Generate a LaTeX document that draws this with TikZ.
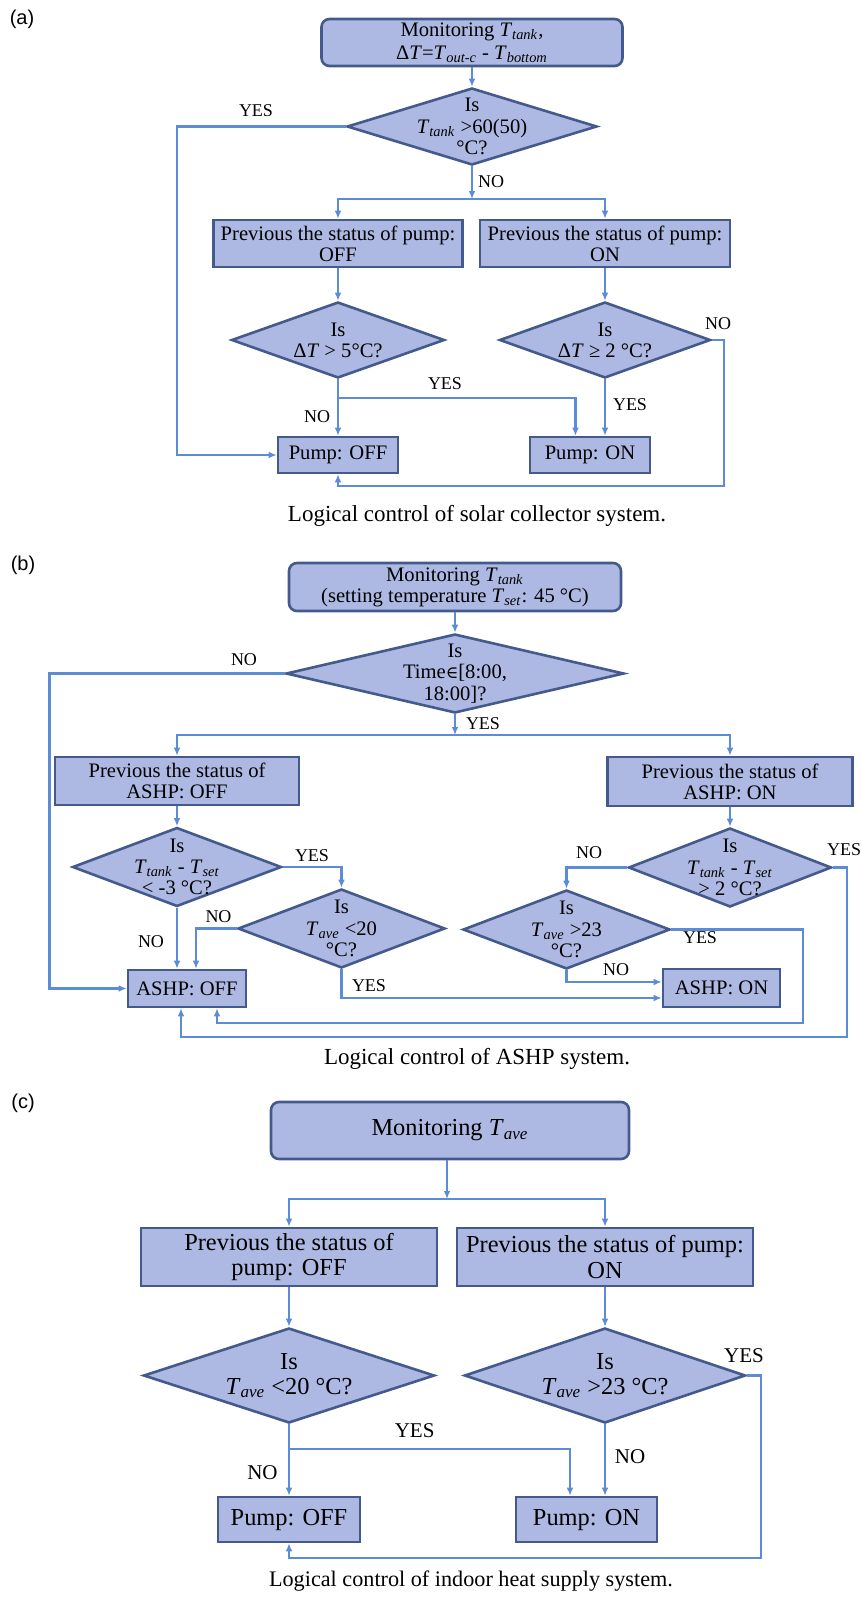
\documentclass[tikz,border=0pt]{standalone}
\usepackage{fontspec}
\setmainfont{Liberation Serif}
\newfontfamily\labfont{Liberation Sans}
\newfontfamily\symfont{DejaVu Serif}
\usetikzlibrary{shapes.geometric,arrows.meta}
\definecolor{boxfill}{RGB}{173,185,226}
\definecolor{boxline}{RGB}{68,90,140}
\definecolor{conn}{RGB}{92,140,214}
\newcommand{\Tsb}[1]{\textit{T}\textsubscript{\textit{#1}}}
\newcommand{\dgc}{°C}
\newcommand{\elem}{{\symfont\fontsize{8.5}{8.5}\selectfont ∈}}
\newcommand{\fA}{\fontsize{10.3}{10.6}\selectfont}
\newcommand{\fC}{\fontsize{12.2}{12.6}\selectfont}
\newcommand{\fYN}{\fontsize{9}{9}\selectfont}
\newcommand{\fYNc}{\fontsize{10.5}{10.5}\selectfont}
\newcommand{\fCap}{\fontsize{11.5}{11.5}\selectfont}
\newcommand{\fCapc}{\fontsize{11.1}{11.1}\selectfont}
\newcommand{\fPanel}{\fontsize{10}{10}\selectfont}
\tikzset{
  procbox/.style={draw=boxline, fill=boxfill, line width=1.3pt, inner sep=0pt, align=center},
  startbox/.style={procbox, rounded corners=4pt},
  decbox/.style={diamond, draw=boxline, fill=boxfill, line width=1.3pt, inner sep=0pt},
  dtext/.style={inner sep=0pt, align=center},
  conline/.style={draw=conn, line width=1.1pt},
  conarr/.style={conline, -{Latex[length=4pt,width=3.4pt]}},
  yn/.style={inner sep=0pt, font=\fYN},
  ync/.style={inner sep=0pt, font=\fYNc},
  captext/.style={inner sep=0pt},
  panel/.style={inner sep=0pt, font=\labfont\fPanel},
}
\begin{document}
\begin{tikzpicture}[x=0.5pt,y=-0.5pt]
\useasboundingbox (0,0) rectangle (861,1601);

% ---------------- Panel (a) ----------------
\node[panel] (la) at (22,19) {(a)};
\node[startbox, minimum width=150.5pt, minimum height=23.5pt, font=\fA] (topA) at (472,42.5)
  {Monitoring \Tsb{tank},\\[1pt]Δ\textit{T}=\Tsb{out-c} - \Tsb{bottom}};
\node[decbox, minimum width=125pt, minimum height=38.5pt] (dA1) at (472,126.5) {};
\node[dtext, font=\fA] (tA1) at (dA1) {Is\\\Tsb{tank} >60(50)\\\dgc?};
\coordinate (jA) at (472,199);
\node[procbox, minimum width=124.5pt, minimum height=23.5pt, font=\fA] (offA) at (338,243.5)
  {Previous the status of pump:\\OFF};
\node[procbox, minimum width=125pt, minimum height=23.5pt, font=\fA] (onA) at (605,243.5)
  {Previous the status of pump:\\ON};
\node[decbox, minimum width=106.5pt, minimum height=38pt] (dA2) at (338,340) {};
\node[dtext, font=\fA] (tA2) at (dA2) {Is\\Δ\textit{T} > 5\dgc?};
\node[decbox, minimum width=105.5pt, minimum height=38pt] (dA3) at (605,340) {};
\node[dtext, font=\fA] (tA3) at (dA3) {Is\\Δ\textit{T} ≥ 2 \dgc?};
\node[procbox, minimum width=60pt, minimum height=18pt, font=\fA] (pOffA) at (338,455) {Pump: OFF};
\node[procbox, minimum width=60pt, minimum height=18pt, font=\fA] (pOnA) at (590,455) {Pump: ON};
\node[captext, font=\fCap] (capA) at (477,516) {Logical control of solar collector system.};

\draw[conarr] (topA) -- (dA1);
\draw[conarr] (dA1) -- (jA);
\draw[conarr] (jA) -| (offA.north);
\draw[conarr] (jA) -| (onA.north);
\coordinate (cA1) at (177,126.5);
\draw[conarr] (dA1.west) -- (cA1) |- (pOffA.west);
\draw[conarr] (offA.south) -- (dA2.north);
\draw[conarr] (onA.south) -- (dA3.north);
\draw[conarr] (dA2.south) -- (pOffA.north);
\coordinate (bA1) at (338,398);
\coordinate (bA2) at (575.5,398);
\draw[conarr] (bA1) -- (bA2) -- (bA2 |- pOnA.north);
\draw[conarr] (dA3.south) -- (dA3.south |- pOnA.north);
\coordinate (rA) at (724,486);
\draw[conarr] (dA3.east) -| (rA) -| (pOffA.south);

\node[yn] (yA1) at (256,111) {YES};
\node[yn] (nA1) at (491,182) {NO};
\node[yn] (nA2) at (718,324) {NO};
\node[yn] (yA2) at (445,384) {YES};
\node[yn] (nA3) at (317,417) {NO};
\node[yn] (yA3) at (630,405) {YES};

% ---------------- Panel (b) ----------------
\node[panel] (lb) at (23,565) {(b)};
\node[startbox, minimum width=166pt, minimum height=24pt, font=\fA] (topB) at (455,587)
  {Monitoring \Tsb{tank}\\(setting temperature \Tsb{set}: 45 \dgc)};
\node[decbox, minimum width=169pt, minimum height=39.5pt] (dB1) at (455,673.5) {};
\node[dtext, font=\fA] (tB1) at (dB1) {Is\\Time\elem[8:00,\\18:00]?};
\coordinate (jB) at (455,735);
\node[procbox, minimum width=122pt, minimum height=24pt, font=\fA] (offB) at (177,781)
  {Previous the status of\\ASHP: OFF};
\node[procbox, minimum width=122.5pt, minimum height=24.5pt, font=\fA] (onB) at (730,781.5)
  {Previous the status of\\ASHP: ON};
\node[decbox, minimum width=104.5pt, minimum height=39.5pt] (dB2) at (177,867) {};
\node[dtext, font=\fA] (tB2) at (dB2) {Is\\\Tsb{tank} - \Tsb{set}\\< -3 \dgc?};
\node[decbox, minimum width=103.5pt, minimum height=39.5pt] (dB3) at (341.5,928.5) {};
\node[dtext, font=\fA] (tB3) at (dB3) {Is\\\Tsb{ave} <20\\\dgc?};
\node[decbox, minimum width=101.5pt, minimum height=39.5pt] (dB4) at (730,867.5) {};
\node[dtext, font=\fA] (tB4) at (dB4) {Is\\\Tsb{tank} - \Tsb{set}\\> 2 \dgc?};
\node[decbox, minimum width=103.5pt, minimum height=39.5pt] (dB5) at (566.5,929.5) {};
\node[dtext, font=\fA] (tB5) at (dB5) {Is\\\Tsb{ave} >23\\\dgc?};
\node[procbox, minimum width=59pt, minimum height=18.5pt, font=\fA] (aOff) at (187,988.5) {ASHP: OFF};
\node[procbox, minimum width=58.5pt, minimum height=19pt, font=\fA] (aOn) at (721.5,988) {ASHP: ON};
\node[captext, font=\fCap] (capB) at (477,1059) {Logical control of ASHP system.};

\draw[conarr] (topB) -- (dB1);
\draw[conarr] (dB1) -- (jB);
\draw[conarr] (jB) -| (offB.north);
\draw[conarr] (jB) -| (onB.north);
\coordinate (cB1) at (49.5,673.5);
\draw[conarr] (dB1.west) -- (cB1) |- (aOff.west);
\draw[conarr] (offB.south) -- (dB2.north);
\draw[conarr] (onB.south) -- (dB4.north);
\draw[conarr] (dB2.east) -| (dB3.north);
\draw[conarr] (dB2.south) -- (dB2.south |- aOff.north);
\coordinate (cB3) at (196,928.5);
\draw[conarr] (dB3.west) -- (cB3) -- (cB3 |- aOff.north);
\coordinate (cB4) at (341.5,998);
\draw[conarr] (dB3.south) -- (cB4) -- (cB4 -| aOn.west);
\draw[conarr] (dB4.west) -| (dB5.north);
\coordinate (cB5) at (566.5,982);
\draw[conarr] (dB5.south) -- (cB5) -- (cB5 -| aOn.west);
\coordinate (cB6) at (803,1023);
\coordinate (cB6b) at (217,1023);
\draw[conarr] (dB5.east) -| (cB6) -- (cB6b) -- (cB6b |- aOff.south);
\coordinate (cB7) at (847,1037);
\coordinate (cB7b) at (181,1037);
\draw[conarr] (dB4.east) -| (cB7) -- (cB7b) -- (cB7b |- aOff.south);

\node[yn] (nB1) at (244,660) {NO};
\node[yn] (yB1) at (483,724) {YES};
\node[yn] (yB2) at (312,856) {YES};
\node[yn] (nB2) at (151,942) {NO};
\node[yn] (nB3) at (218.5,917) {NO};
\node[yn] (yB3) at (369,986) {YES};
\node[yn] (nB4) at (589,853) {NO};
\node[yn] (yB4) at (700,938) {YES};
\node[yn] (nB5) at (616,970) {NO};
\node[yn] (yB5) at (844,850) {YES};

% ---------------- Panel (c) ----------------
\node[panel] (lc) at (23,1103) {(c)};
\node[startbox, minimum width=179pt, minimum height=28.5pt, font=\fC] (topC) at (450,1130.5) {Monitoring \Tsb{ave}};
\coordinate (jC) at (447,1199);
\node[procbox, minimum width=148pt, minimum height=29pt, font=\fC] (boxC1) at (289,1257)
  {Previous the status of\\pump: OFF};
\node[procbox, minimum width=148pt, minimum height=29pt, font=\fC] (boxC2) at (605,1257)
  {Previous the status of pump:\\ON};
\node[decbox, minimum width=145.5pt, minimum height=47.5pt] (dC1) at (289,1375.5) {};
\node[dtext, font=\fC] (tC1) at (dC1) {Is\\\Tsb{ave} <20 \dgc?};
\node[decbox, minimum width=140.5pt, minimum height=47.5pt] (dC2) at (605,1375.5) {};
\node[dtext, font=\fC] (tC2) at (dC2) {Is\\\Tsb{ave} >23 \dgc?};
\node[procbox, minimum width=71pt, minimum height=22.5pt, font=\fC] (pOffC) at (289,1519.5) {Pump: OFF};
\node[procbox, minimum width=70.5pt, minimum height=22.5pt, font=\fC] (pOnC) at (586.5,1519.5) {Pump: ON};
\node[captext, font=\fCapc] (capC) at (471,1581) {Logical control of indoor heat supply system.};

\draw[conarr] (topC.south -| jC) -- (jC);
\draw[conarr] (jC) -| (boxC1.north);
\draw[conarr] (jC) -| (boxC2.north);
\draw[conarr] (boxC1.south) -- (dC1.north);
\draw[conarr] (boxC2.south) -- (dC2.north);
\draw[conarr] (dC1.south) -- (pOffC.north);
\coordinate (bC1) at (289,1449);
\coordinate (bC2) at (570,1449);
\draw[conarr] (bC1) -- (bC2) -- (bC2 |- pOnC.north);
\draw[conarr] (dC2.south) -- (dC2.south |- pOnC.north);
\coordinate (rC) at (760.6,1558);
\draw[conarr] (dC2.east) -| (rC) -| (pOffC.south);

\node[ync] (yC1) at (744,1356) {YES};
\node[ync] (yC2) at (414.6,1431) {YES};
\node[ync] (nC1) at (262.5,1473) {NO};
\node[ync] (nC2) at (630,1457) {NO};
\end{tikzpicture}
\end{document}
